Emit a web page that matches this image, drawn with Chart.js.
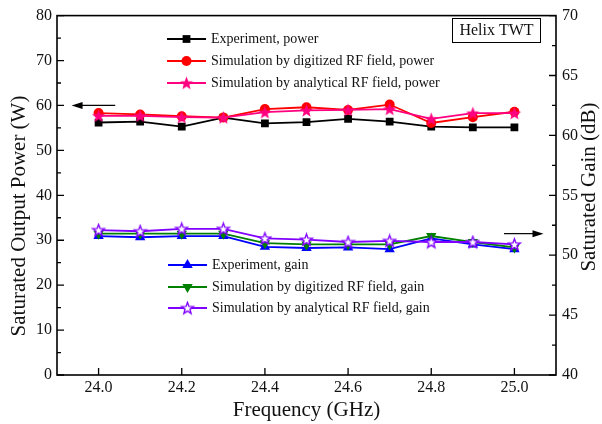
<!DOCTYPE html>
<html>
<head>
<meta charset="utf-8">
<script src="https://cdn.jsdelivr.net/npm/chart.js@4/dist/chart.umd.min.js"></script>
<style>
  body { margin: 0; background: #fff; }
</style>
</head>
<body>
<canvas id="twtChart" width="602" height="424"></canvas>
<script>
// Frequency points (GHz) and axis ticks
const freq = [24.0, 24.1, 24.2, 24.3, 24.4, 24.5, 24.6, 24.7, 24.8, 24.9, 25.0];
const freqTicks = [24.0, 24.2, 24.4, 24.6, 24.8, 25.0];
const powerTicks = [0, 10, 20, 30, 40, 50, 60, 70, 80];
const gainTicks = [40, 45, 50, 55, 60, 65, 70];

// Saturated output power (W)
const powerExp = [56.2, 56.4, 55.3, 57.3, 56.0, 56.3, 57.0, 56.4, 55.3, 55.1, 55.1];
const powerDigitized = [58.3, 58.0, 57.6, 57.3, 59.2, 59.6, 59.0, 60.2, 56.1, 57.4, 58.6];
const powerAnalytical = [57.7, 57.7, 57.4, 57.3, 58.5, 58.9, 59.0, 59.2, 57.0, 58.3, 58.3];

// Saturated gain (dB)
const gainExp = [51.6, 51.5, 51.6, 51.6, 50.7, 50.6, 50.65, 50.5, 51.4, 50.9, 50.5];
const gainDigitized = [51.8, 51.8, 51.8, 51.8, 51.0, 50.9, 50.9, 50.9, 51.6, 51.1, 50.65];
const gainAnalytical = [52.1, 52.0, 52.2, 52.2, 51.4, 51.3, 51.1, 51.2, 51.1, 51.1, 50.9];

const SERIF = "'Liberation Serif', 'Times New Roman', serif";
const INK = '#111';

// five-pointed star markers (filled / hollow)
function makeStar(size, fill, stroke, lw) {
  const c = document.createElement('canvas');
  c.width = c.height = size;
  const g = c.getContext('2d');
  const r = size / 2 - lw, ri = r * 0.42, cx = size / 2, cy = size / 2 + r * 0.08;
  g.beginPath();
  for (let i = 0; i < 10; i++) {
    const a = -Math.PI / 2 + i * Math.PI / 5;
    const rr = i % 2 ? ri : r;
    g.lineTo(cx + rr * Math.cos(a), cy + rr * Math.sin(a));
  }
  g.closePath();
  g.fillStyle = fill;
  g.fill();
  if (stroke) { g.strokeStyle = stroke; g.lineWidth = lw; g.stroke(); }
  return c;
}
const pinkStar = makeStar(15, '#ff0080', null, 0.5);
const violetStar = makeStar(15, '#ffffff', '#8000ff', 1.4);

function series(label, data, color, axis, style, radius, order, rotation) {
  return {
    label: label,
    data: data.map((v, i) => ({ x: freq[i], y: v })),
    yAxisID: axis,
    borderColor: color,
    backgroundColor: color,
    borderWidth: 1.8,
    pointStyle: style,
    pointRadius: radius,
    pointRotation: rotation || 0,
    pointBorderWidth: 0,
    order: order,
    tension: 0
  };
}

// higher order is painted first (underneath)
const datasets = [
  series('Experiment, power', powerExp, '#000000', 'y', 'rect', 5.5, 3),
  series('Simulation by digitized RF field, power', powerDigitized, '#ff0000', 'y', 'circle', 5, 2),
  series('Simulation by analytical RF field, power', powerAnalytical, '#ff0080', 'y', pinkStar, 7, 1),
  series('Experiment, gain', gainExp, '#0000ff', 'y1', 'triangle', 6, 3),
  series('Simulation by digitized RF field, gain', gainDigitized, '#008000', 'y1', 'triangle', 6, 2, 180),
  series('Simulation by analytical RF field, gain', gainAnalytical, '#8000ff', 'y1', violetStar, 7, 1)
];

// little marker painter for the legend rows
function drawMarker(ctx, ds, x, y) {
  const r = ds.pointRadius;
  ctx.fillStyle = ds.borderColor;
  if (typeof ds.pointStyle === 'object') {
    ctx.drawImage(ds.pointStyle, x - ds.pointStyle.width / 2, y - ds.pointStyle.height / 2);
    return;
  }
  ctx.beginPath();
  if (ds.pointStyle === 'rect') {
    const s = r * Math.SQRT1_2;
    ctx.rect(x - s, y - s, 2 * s, 2 * s);
  } else if (ds.pointStyle === 'circle') {
    ctx.arc(x, y, r, 0, Math.PI * 2);
  } else {
    const dir = ds.pointRotation === 180 ? 1 : -1;
    for (let i = 0; i < 3; i++) {
      const a = dir * Math.PI / 2 + i * 2 * Math.PI / 3;
      ctx.lineTo(x + r * Math.cos(a), y + r * Math.sin(a));
    }
    ctx.closePath();
  }
  ctx.fill();
}

function arrow(ctx, x1, x2, y) {
  const dir = x2 > x1 ? 1 : -1;
  ctx.strokeStyle = '#000';
  ctx.fillStyle = '#000';
  ctx.lineWidth = 1.2;
  ctx.beginPath();
  ctx.moveTo(x1, y);
  ctx.lineTo(x2 - dir * 8, y);
  ctx.stroke();
  ctx.beginPath();
  ctx.moveTo(x2, y);
  ctx.lineTo(x2 - dir * 11, y - 3.5);
  ctx.lineTo(x2 - dir * 11, y + 3.5);
  ctx.closePath();
  ctx.fill();
}

// frame, inward ticks, titles, legends, arrows and label box
const decorations = {
  id: 'decorations',
  afterDraw(chart) {
    const ctx = chart.ctx;
    const a = chart.chartArea;
    const sx = chart.scales.x, sy = chart.scales.y, sg = chart.scales.y1;
    ctx.save();

    // frame
    ctx.strokeStyle = '#000';
    ctx.lineWidth = 1.6;
    ctx.strokeRect(a.left, a.top, a.right - a.left, a.bottom - a.top);

    // inward ticks
    ctx.lineWidth = 1.3;
    ctx.beginPath();
    powerTicks.forEach((v, i) => {
      const y = sy.getPixelForValue(v);
      ctx.moveTo(a.left, y); ctx.lineTo(a.left + 7, y);
      if (i < powerTicks.length - 1) {
        const m = sy.getPixelForValue(v + 5);
        ctx.moveTo(a.left, m); ctx.lineTo(a.left + 4, m);
      }
    });
    gainTicks.forEach((v, i) => {
      const y = sg.getPixelForValue(v);
      ctx.moveTo(a.right, y); ctx.lineTo(a.right - 7, y);
      if (i < gainTicks.length - 1) {
        const m = sg.getPixelForValue(v + 2.5);
        ctx.moveTo(a.right, m); ctx.lineTo(a.right - 4, m);
      }
    });
    freqTicks.forEach(v => {
      const x = sx.getPixelForValue(v);
      ctx.moveTo(x, a.bottom); ctx.lineTo(x, a.bottom - 7);
    });
    ctx.stroke();

    // axis titles
    ctx.fillStyle = INK;
    ctx.font = '21px ' + SERIF;
    ctx.textAlign = 'center';
    ctx.textBaseline = 'middle';
    ctx.fillText('Frequency (GHz)', (a.left + a.right) / 2, 410);
    ctx.save();
    ctx.translate(19, 216);
    ctx.rotate(-Math.PI / 2);
    ctx.fillText('Saturated Output Power (W)', 0, 0);
    ctx.restore();
    ctx.save();
    ctx.translate(589, 187);
    ctx.rotate(-Math.PI / 2);
    ctx.fillText('Saturated Gain (dB)', 0, 0);
    ctx.restore();

    // label box
    ctx.lineWidth = 1;
    ctx.strokeRect(452.5, 18.5, 88, 24);
    ctx.font = '16px ' + SERIF;
    ctx.fillText('Helix TWT', 496.5, 31);

    // legends
    ctx.font = '14px ' + SERIF;
    ctx.textAlign = 'left';
    const rows = [
      { ds: datasets[0], x: 167, y: 39 },
      { ds: datasets[1], x: 167, y: 61 },
      { ds: datasets[2], x: 167, y: 83 },
      { ds: datasets[3], x: 168, y: 265 },
      { ds: datasets[4], x: 168, y: 287 },
      { ds: datasets[5], x: 168, y: 308 }
    ];
    rows.forEach(r => {
      ctx.strokeStyle = r.ds.borderColor;
      ctx.lineWidth = 1.8;
      ctx.beginPath();
      ctx.moveTo(r.x, r.y); ctx.lineTo(r.x + 39, r.y);
      ctx.stroke();
      drawMarker(ctx, r.ds, r.x + 19.5, r.y);
      ctx.fillStyle = INK;
      ctx.fillText(r.ds.label, r.x + 44, r.y);
    });

    // arrows pointing at each axis
    const yp = sy.getPixelForValue(60);
    arrow(ctx, sx.getPixelForValue(24.04), sx.getPixelForValue(23.935), yp);
    const yg = sg.getPixelForValue(51.8);
    arrow(ctx, sx.getPixelForValue(24.975), sx.getPixelForValue(25.07), yg);

    ctx.restore();
  }
};

const tickFont = { family: SERIF, size: 16 };

new Chart(document.getElementById('twtChart').getContext('2d'), {
  type: 'line',
  data: { datasets: datasets },
  options: {
    responsive: false,
    animation: false,
    layout: { padding: { top: 6 } },
    plugins: { legend: { display: false }, tooltip: { enabled: false } },
    scales: {
      x: {
        type: 'linear',
        min: 23.9,
        max: 25.1,
        afterBuildTicks: s => { s.ticks = freqTicks.map(v => ({ value: v })); },
        afterFit: s => { s.height = 49; },
        grid: { display: false, drawTicks: false },
        border: { display: false },
        ticks: { font: tickFont, color: INK, padding: 3, maxRotation: 0, autoSkip: false,
                 callback: v => Number(v).toFixed(1) }
      },
      y: {
        position: 'left',
        min: 0,
        max: 80,
        afterBuildTicks: s => { s.ticks = powerTicks.map(v => ({ value: v })); },
        afterFit: s => { s.width = 57; },
        grid: { display: false, drawTicks: false },
        border: { display: false },
        ticks: { font: tickFont, color: INK, padding: 5 }
      },
      y1: {
        position: 'right',
        min: 40,
        max: 70,
        afterBuildTicks: s => { s.ticks = gainTicks.map(v => ({ value: v })); },
        afterFit: s => { s.width = 46; },
        grid: { display: false, drawTicks: false },
        border: { display: false },
        ticks: { font: tickFont, color: INK, padding: 6 }
      }
    }
  },
  plugins: [decorations]
});
</script>
</body>
</html>
